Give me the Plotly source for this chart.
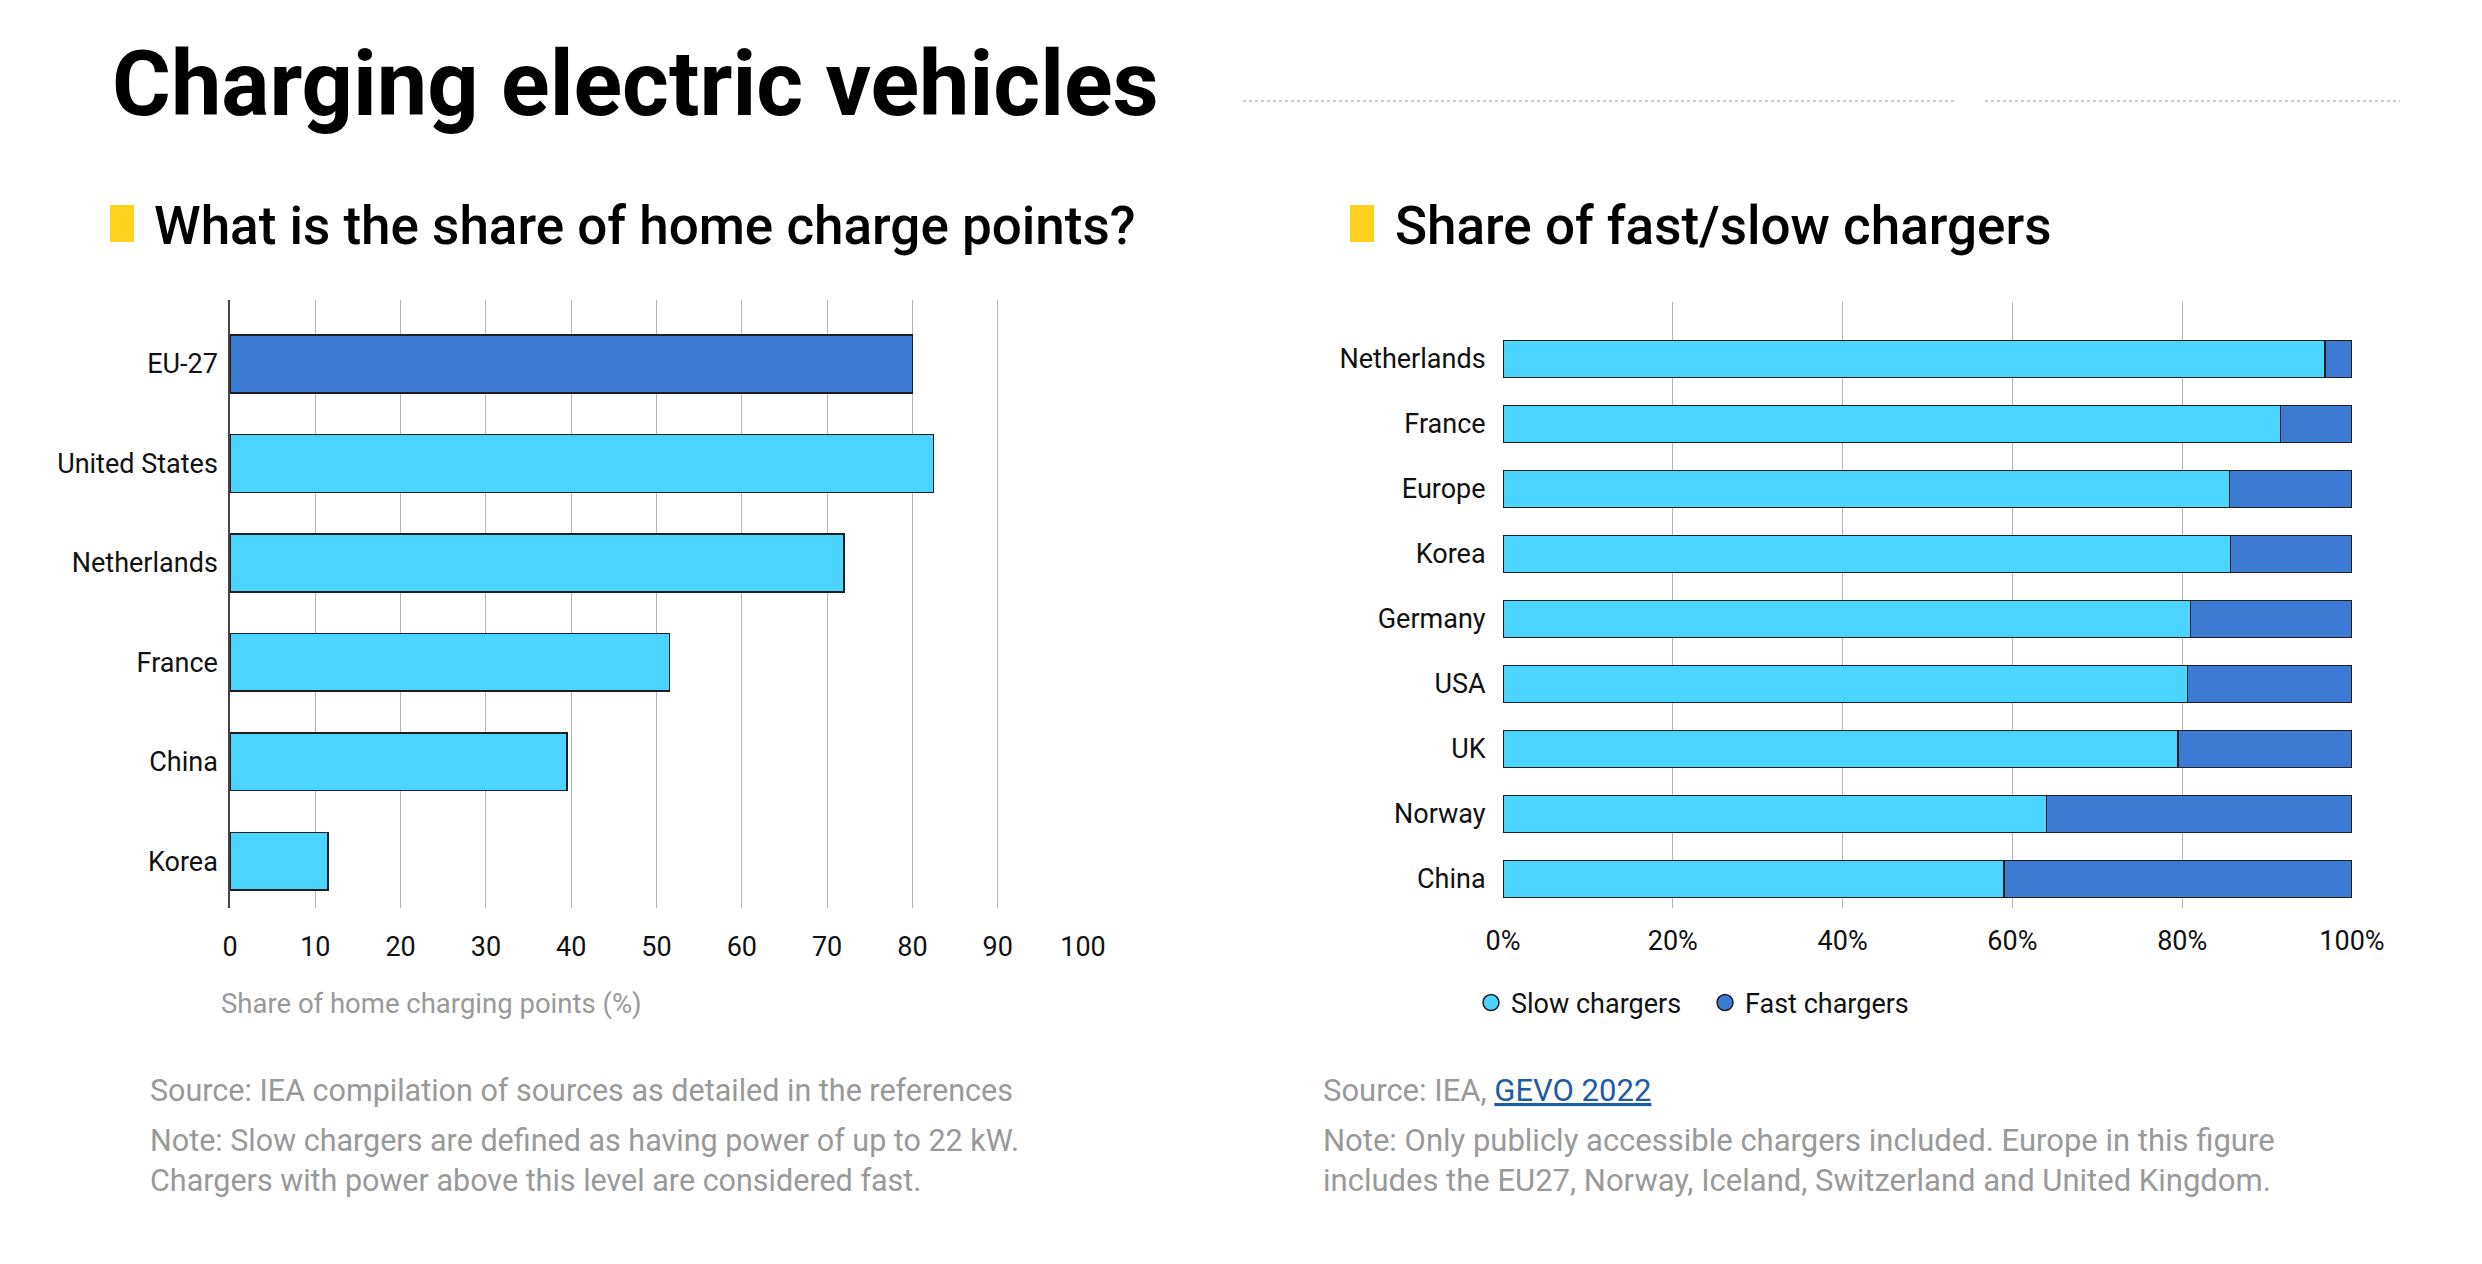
import plotly.graph_objects as go

W, H = 2482, 1264

# ---------------- data ----------------
home_countries = ["EU-27", "United States", "Netherlands", "France", "China", "Korea"]
home_share = [80.0, 82.5, 72.0, 51.5, 39.5, 11.5]
home_ticks = [0, 10, 20, 30, 40, 50, 60, 70, 80, 90, 100]

fs_countries = ["Netherlands", "France", "Europe", "Korea", "Germany", "USA", "UK", "Norway", "China"]
slow_share = [96.8, 91.6, 85.6, 85.7, 81.0, 80.6, 79.5, 64.0, 59.0]
fast_share = [3.2, 8.4, 14.4, 14.3, 19.0, 19.4, 20.5, 36.0, 41.0]
fs_ticks = [0, 20, 40, 60, 80, 100]
fs_tick_labels = ["0%", "20%", "40%", "60%", "80%", "100%"]

# ---------------- style ----------------
CYAN = "#4ad4ff"
BLUE = "#3d7ad4"
EDGE = "#1e1e1e"
GRID = "#b4b4b4"
GREY_TXT = "#999999"
FONT = "Roboto"
home_colors = [BLUE] + [CYAN] * (len(home_countries) - 1)


def px_x(v):
    return v / W


def px_y(v):
    return 1 - v / H


fig = go.Figure()

# Left chart: share of home charge points
fig.add_trace(go.Bar(
    x=home_share, y=home_countries, orientation="h",
    marker=dict(color=home_colors, line=dict(color=EDGE, width=1.5)),
    width=0.58, xaxis="x", yaxis="y", showlegend=False,
))

# Right chart: fast / slow chargers
fig.add_trace(go.Bar(
    x=slow_share, y=fs_countries, orientation="h", name="Slow chargers",
    marker=dict(color=CYAN, line=dict(color=EDGE, width=1.5)),
    width=0.57, xaxis="x2", yaxis="y2", showlegend=False,
))
fig.add_trace(go.Bar(
    x=fast_share, y=fs_countries, orientation="h", name="Fast chargers",
    marker=dict(color=BLUE, line=dict(color=EDGE, width=1.5)),
    width=0.57, xaxis="x2", yaxis="y2", showlegend=False,
))
# legend entries with circular symbols
for nm, col in [("Slow chargers", CYAN), ("Fast chargers", BLUE)]:
    fig.add_trace(go.Scatter(
        x=[None], y=[None], mode="markers", name=nm,
        marker=dict(symbol="circle", size=16, color=col, line=dict(color=EDGE, width=1.5)),
        xaxis="x2", yaxis="y2", showlegend=True,
    ))

tickfont = dict(family=FONT, size=27, color="#111111")

fig.update_layout(
    width=W, height=H,
    margin=dict(l=0, r=0, t=0, b=0, autoexpand=False),
    paper_bgcolor="white", plot_bgcolor="white",
    barmode="stack",
    font=dict(family=FONT, size=27, color="#111111"),
    xaxis=dict(
        domain=[px_x(230), px_x(1083)], range=[0, 100], automargin=False,
        tickvals=home_ticks, showgrid=True, gridcolor=GRID, gridwidth=1,
        zeroline=False, showline=False,
        ticks="outside", ticklen=15, tickcolor="rgba(0,0,0,0)",
        tickfont=tickfont, anchor="y",
    ),
    yaxis=dict(
        domain=[px_y(908), px_y(300)], type="category", automargin=False,
        categoryorder="array", categoryarray=home_countries,
        range=[5.47, -0.644], showgrid=False, zeroline=False,
        showline=True, linecolor="#444444", linewidth=1.5,
        ticks="outside", ticklen=5, tickcolor="rgba(0,0,0,0)",
        tickfont=tickfont, anchor="x",
    ),
    xaxis2=dict(
        domain=[px_x(1503), px_x(2352)], range=[0, 100], automargin=False,
        tickvals=fs_ticks, ticktext=fs_tick_labels,
        showgrid=True, gridcolor=GRID, gridwidth=1,
        zeroline=False, showline=False,
        ticks="outside", ticklen=9, tickcolor="rgba(0,0,0,0)",
        tickfont=tickfont, anchor="y2",
    ),
    yaxis2=dict(
        domain=[px_y(908), px_y(302)], type="category", automargin=False,
        categoryorder="array", categoryarray=fs_countries,
        range=[8.446, -0.877], showgrid=False, zeroline=False, showline=False,
        ticks="outside", ticklen=11, tickcolor="rgba(0,0,0,0)",
        tickfont=tickfont, anchor="x2",
    ),
    legend=dict(
        orientation="h", x=px_x(1471), y=px_y(1003), xanchor="left", yanchor="middle",
        traceorder="normal", entrywidth=189, entrywidthmode="pixels",
        font=dict(family=FONT, size=27, color="#111111"), bgcolor="rgba(0,0,0,0)",
        itemclick=False, itemdoubleclick=False,
    ),
)

shapes = [
    # yellow markers next to subtitles
    dict(type="rect", xref="paper", yref="paper", x0=px_x(110), x1=px_x(134),
         y0=px_y(242), y1=px_y(205), fillcolor="#ffd21f", line=dict(width=0)),
    dict(type="rect", xref="paper", yref="paper", x0=px_x(1350), x1=px_x(1374),
         y0=px_y(242), y1=px_y(205), fillcolor="#ffd21f", line=dict(width=0)),
    # dotted rule at the top
    dict(type="line", xref="paper", yref="paper", x0=px_x(1243), x1=px_x(1955),
         y0=px_y(101), y1=px_y(101), line=dict(color="#cccccc", width=2, dash="dot")),
    dict(type="line", xref="paper", yref="paper", x0=px_x(1985), x1=px_x(2400),
         y0=px_y(101), y1=px_y(101), line=dict(color="#cccccc", width=2, dash="dot")),
]
fig.update_layout(shapes=shapes)

ann = []
ann.append(dict(text="<b>Charging electric vehicles</b>", x=px_x(110), y=px_y(84),
                xref="paper", yref="paper", xanchor="left", yanchor="middle", showarrow=False,
                font=dict(family=FONT, size=90, color="#000000")))
ann.append(dict(text="What is the share of home charge points?", x=px_x(152), y=px_y(226),
                xref="paper", yref="paper", xanchor="left", yanchor="middle", showarrow=False,
                font=dict(family=FONT, size=53, color="#000000", weight=500)))
ann.append(dict(text="Share of fast/slow chargers", x=px_x(1393), y=px_y(226),
                xref="paper", yref="paper", xanchor="left", yanchor="middle", showarrow=False,
                font=dict(family=FONT, size=53, color="#000000", weight=500)))
ann.append(dict(text="Share of home charging points (%)", x=px_x(219), y=px_y(1003),
                xref="paper", yref="paper", xanchor="left", yanchor="middle", showarrow=False,
                font=dict(family=FONT, size=27.5, color=GREY_TXT)))
ann.append(dict(text="Source: IEA compilation of sources as detailed in the references",
                x=px_x(148), y=px_y(1090), xref="paper", yref="paper",
                xanchor="left", yanchor="middle", showarrow=False,
                font=dict(family=FONT, size=30.5, color=GREY_TXT)))
ann.append(dict(text="Note: Slow chargers are defined as having power of up to 22 kW.<br>"
                     "Chargers with power above this level are considered fast.",
                x=px_x(148), y=px_y(1160), xref="paper", yref="paper",
                xanchor="left", yanchor="middle", align="left", showarrow=False,
                font=dict(family=FONT, size=30.5, color=GREY_TXT)))
ann.append(dict(text="Source: IEA, <span style='color:#1f5aa6'><u>GEVO 2022</u></span>",
                x=px_x(1321), y=px_y(1090), xref="paper", yref="paper",
                xanchor="left", yanchor="middle", showarrow=False,
                font=dict(family=FONT, size=31, color=GREY_TXT)))
ann.append(dict(text="Note: Only publicly accessible chargers included. Europe in this figure<br>"
                     "includes the EU27, Norway, Iceland, Switzerland and United Kingdom.",
                x=px_x(1321), y=px_y(1160), xref="paper", yref="paper",
                xanchor="left", yanchor="middle", align="left", showarrow=False,
                font=dict(family=FONT, size=31, color=GREY_TXT)))
fig.update_layout(annotations=ann)

fig.write_html("out.html")
